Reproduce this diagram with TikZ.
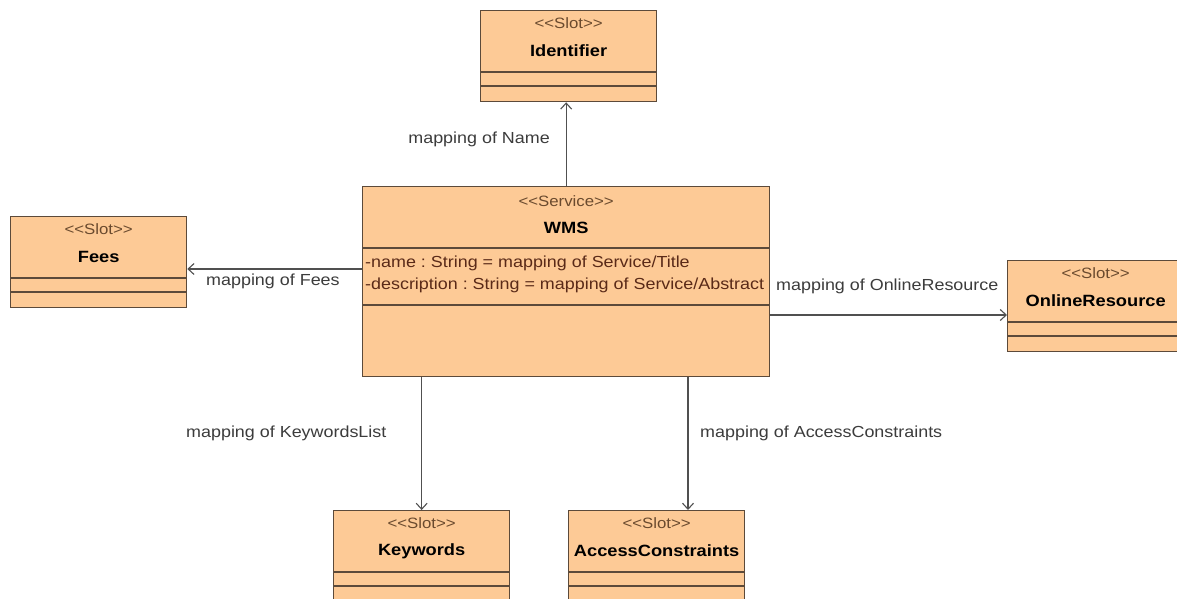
\documentclass[tikz,border=0pt]{standalone}
\usepackage{fontspec}
\setmainfont{Liberation Sans}[FakeStretch=1.12]
\usetikzlibrary{arrows.meta,calc}
\frenchspacing
\definecolor{classfill}{HTML}{FDCA96}
\definecolor{classline}{HTML}{5C4A3A}
\definecolor{stereocol}{HTML}{6A4A2E}
\definecolor{attrcol}{HTML}{5A2A18}
\definecolor{labelgray}{HTML}{3C3C3C}
\definecolor{wire}{HTML}{505050}

\tikzset{
  slot/.style={draw=classline, fill=classfill, line width=1.3pt, anchor=north west,
    minimum width=176pt, minimum height=91pt, inner sep=0pt},
  service/.style={slot, minimum width=407pt, minimum height=190pt},
  compline/.style={draw=classline, line width=1.3pt},
  stereo/.style={text=stereocol, inner sep=0pt, font=\fontsize{15}{17}\selectfont},
  cname/.style={text=black, inner sep=0pt, font=\fontsize{16.3}{18}\selectfont\bfseries},
  attr/.style={text=attrcol, inner sep=0pt, anchor=west, font=\fontsize{16}{18}\selectfont},
  lbl/.style={text=labelgray, inner sep=0pt, font=\fontsize{16}{18}\selectfont},
  assoc/.style={draw=wire, line width=1.1pt, -{Straight Barb[length=6pt,width=11pt,line width=1.1pt]}}
}

\begin{document}
\begin{tikzpicture}[x=1pt,y=-1pt]
\clip (0,0) rectangle (1177,599);
\fill[white] (0,0) rectangle (1177,599);

% service class
\node[service] (wms) at (362,186) {};
\draw[compline] ($(wms.north west)+(0,62)$) -- ($(wms.north east)+(0,62)$);
\draw[compline] ($(wms.north west)+(0,119)$) -- ($(wms.north east)+(0,119)$);
\node[stereo] (wms-st) at ($(wms.north)+(0,15)$) {<{}<Service>{}>};
\node[cname] (wms-nm) at ($(wms.north)+(0,42)$) {WMS};
\node[attr] (wms-a1) at ($(wms.north west)+(3,77)$) {-name : String = mapping of Service/Title};
\node[attr] (wms-a2) at ($(wms.north west)+(3,99)$) {-description : String = mapping of Service/Abstract};

% slot classes
\newcommand{\slotclass}[4]{%
  \node[slot] (#1) at (#2,#3) {};
  \draw[compline] ($(#1.north west)+(0,62)$) -- ($(#1.north east)+(0,62)$);
  \draw[compline] ($(#1.north west)+(0,76)$) -- ($(#1.north east)+(0,76)$);
  \node[stereo] (#1-st) at ($(#1.north)+(0,13)$) {<{}<Slot>{}>};
  \node[cname] (#1-nm) at ($(#1.north)+(0,41)$) {#4};
}
\slotclass{ident}{480}{10}{Identifier}
\slotclass{fees}{10}{216}{Fees}
\slotclass{online}{1007}{260}{OnlineResource}
\slotclass{kw}{333}{510}{Keywords}
\slotclass{ac}{568}{510}{AccessConstraints}

% associations
\draw[assoc] (wms.north) -- (wms.north |- ident.south);
\coordinate (feesfrom) at ($(wms.north west)+(0,83)$);
\draw[assoc] (feesfrom) -- (feesfrom -| fees.east);
\coordinate (onlinefrom) at ($(wms.north east)+(0,129)$);
\draw[assoc] (onlinefrom) -- (onlinefrom -| online.west);
\draw[assoc] (kw.north |- wms.south) -- (kw.north);
\coordinate (acfrom) at ($(wms.south west)+(326,0)$);
\draw[assoc] (acfrom) -- (acfrom |- ac.north);

% association labels
\node[lbl, anchor=east] (l-name) at (550,139) {mapping of Name};
\node[lbl, anchor=west] (l-fees) at (206,281) {mapping of Fees};
\node[lbl, anchor=west] (l-online) at (776,286) {mapping of OnlineResource};
\node[lbl, anchor=west] (l-kw) at (186,433) {mapping of KeywordsList};
\node[lbl, anchor=west] (l-ac) at (700,433) {mapping of AccessConstraints};
\end{tikzpicture}
\end{document}
